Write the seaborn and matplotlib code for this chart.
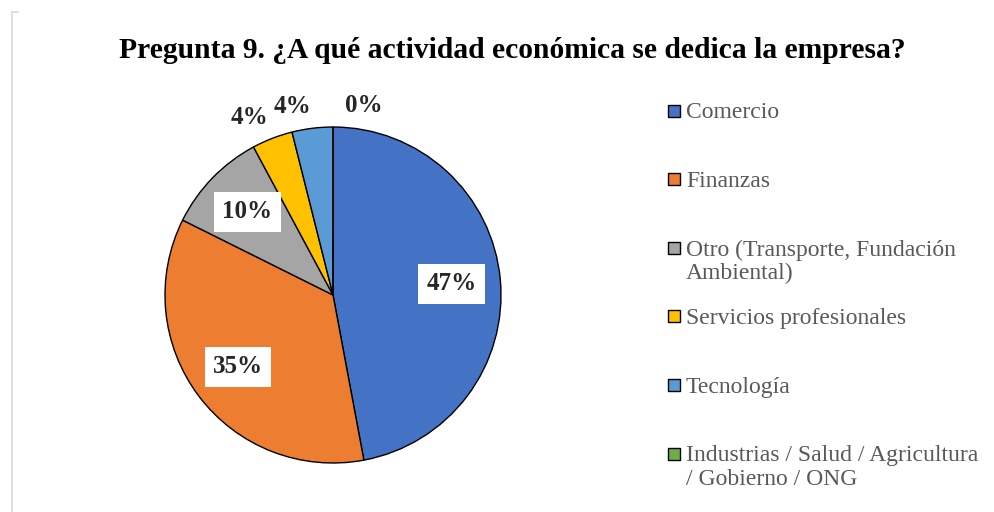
import numpy as np
import matplotlib.pyplot as plt
import seaborn as sns
from matplotlib.patches import Rectangle
from matplotlib.lines import Line2D

title = "Pregunta 9. ¿A qué actividad económica se dedica la empresa?"
categories = [
    "Comercio",
    "Finanzas",
    "Otro (Transporte, Fundación\nAmbiental)",
    "Servicios profesionales",
    "Tecnología",
    "Industrias / Salud / Agricultura\n/ Gobierno / ONG",
]
counts = [24, 18, 5, 2, 2, 0]
colors = ["#4472C4", "#ED7D31", "#A5A5A5", "#FFC000", "#5B9BD5", "#70AD47"]

sns.set_theme(style="white")
plt.rcParams["font.family"] = ["Liberation Serif", "DejaVu Serif"]

W, H = 994, 512
fig = plt.figure(figsize=(W / 100, H / 100), dpi=100)

# chart border remnant on the left
fig.add_artist(Line2D([12 / W, 12 / W], [0, 1 - 12 / H], color="#d9d9d9", lw=1.2))
fig.add_artist(Line2D([12 / W, 18 / W], [1 - 12 / H, 1 - 12 / H], color="#d9d9d9", lw=1.2))

fig.text(512 / W, 1 - 51 / H, title, ha="center", va="center",
         fontsize=21.3, fontweight="bold", color="black")

ax = fig.add_axes([165 / W, 1 - 463 / H, 336 / W, 336 / H])
wedges, _ = ax.pie(counts, colors=colors, startangle=90, counterclock=False,
                   radius=1, wedgeprops=dict(edgecolor="black", linewidth=1.0))
ax.set_xlim(-1, 1)
ax.set_ylim(-1, 1)
ax.axis("off")

shares = np.array(counts) / sum(counts)
cum = 0.0
for s in shares:
    mid = np.deg2rad(90 - 360 * (cum + s / 2))
    cum += s
    txt = f"{s * 100:.0f}%"
    if s >= 0.08:
        r = 0.71
        ax.text(r * np.cos(mid), r * np.sin(mid), txt, ha="center", va="center",
                fontsize=18, fontweight="bold",
                bbox=dict(boxstyle="square,pad=0.33", fc="white", ec="none"))
    else:
        r = 1.06
        x, y = r * np.cos(mid), r * np.sin(mid)
        if x < -1e-6:
            ha = "right"
        else:
            ha = "left"
            x += 0.07
        ax.text(x, y, txt, ha=ha, va="bottom", fontsize=18, fontweight="bold")

# legend, Excel style: fixed slot pitch
for i, (lab, w) in enumerate(zip(categories, wedges)):
    yc = 110.5 + i * 68.6
    fig.add_artist(Rectangle((668 / W, 1 - (yc + 6) / H), 12 / W, 12 / H,
                             facecolor=w.get_facecolor(), edgecolor="black", lw=1.0))
    fig.text(686 / W, 1 - (yc - 8) / H, lab, ha="left", va="top",
             fontsize=17, color="#595959", linespacing=1.15)

fig.savefig("out.png", dpi=100)
